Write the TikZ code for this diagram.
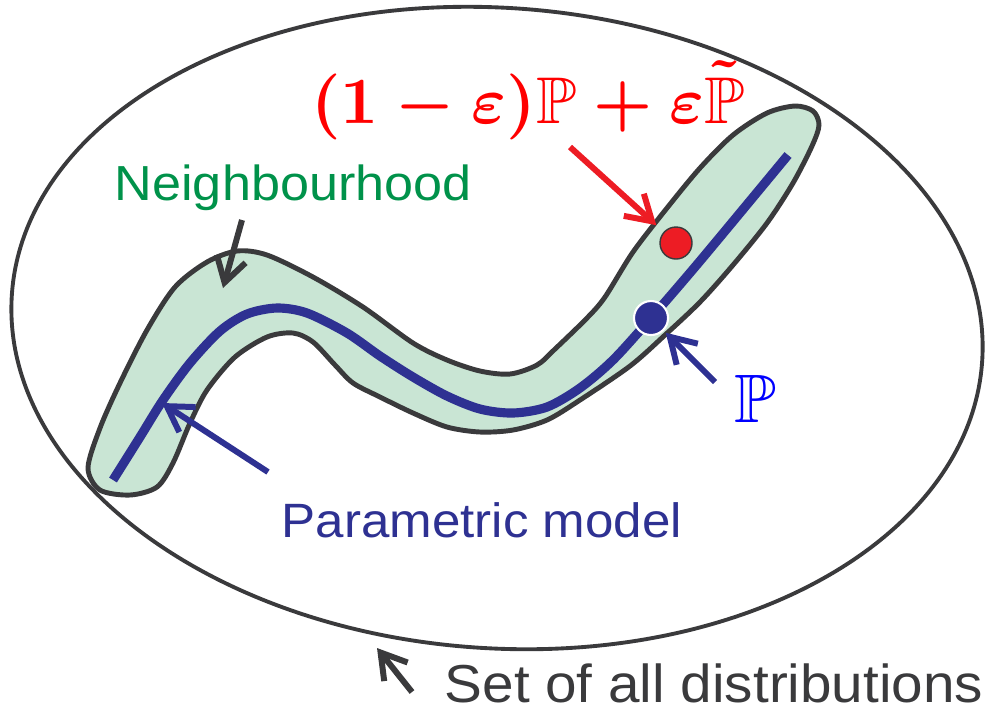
\documentclass[tikz,border=0pt]{standalone}
\usepackage{amssymb}
\usepackage{fontspec}
\newfontfamily\labelfont[FakeStretch=1.06]{Liberation Sans}
\usetikzlibrary{arrows.meta}
\definecolor{bandgreen}{HTML}{C9E5D4}
\definecolor{edgegray}{HTML}{3A3A3C}
\definecolor{modelblue}{HTML}{2E3192}
\definecolor{dotred}{HTML}{ED1C24}
\definecolor{textgreen}{HTML}{00924A}

\begin{document}
\begin{tikzpicture}[
    x=0.01cm, y=-0.01cm,
    band/.style = {draw=edgegray, fill=bandgreen, line width=1.4pt},
    model/.style = {draw=modelblue, line width=2.6pt},
    dot/.style = {circle, inner sep=0pt, minimum size=0.34cm},
    lbl/.style = {anchor=base west, inner sep=0pt, font=\labelfont\fontsize{14}{17}\selectfont},
    mathlbl/.style = {anchor=base west, inner sep=0pt, font=\fontsize{10}{12}\selectfont},
    arrow/.style = {line width=1.7pt, -{Straight Barb[length=7pt, width=8.5pt]}}
]
    \useasboundingbox (0,0) rectangle (995,714);

    % set of all distributions
    \draw[edgegray, line width=1.1pt, rotate around={-4:(497,328)}]
        (497,328) ellipse [x radius=4.86cm, y radius=3.2cm];

    % neighbourhood of the model
    \draw[band] plot[smooth cycle] coordinates {
        (88,468) (100,428) (120,383) (147,330) (175,287) (207,262) (237,251)
        (267,255) (313,277) (363,307) (413,343) (447,360) (480,371) (510,374)
        (537,365) (555,349) (587,318) (605,297) (633,252) (667,208) (700,168)
        (733,135) (767,113) (795,106) (813,111) (819,125) (812,146) (793,183)
        (767,223) (733,265) (700,302) (665,335) (630,366) (580,400) (547,420)
        (513,430) (480,432) (447,427) (413,413) (380,397) (353,383) (335,365)
        (313,342) (293,333) (267,337) (235,357) (207,390) (190,423) (173,463)
        (157,487) (130,495) (100,490)};

    \draw[model] plot[smooth] coordinates {
        (113,480) (140,437) (163,400) (190,363) (220,331) (247,314) (277,308)
        (307,313) (347,333) (380,356) (413,377) (447,396) (480,409) (513,413)
        (547,407) (580,388) (613,360) (651,318) (700,261) (788,155)};

    \node[dot, fill=modelblue, draw=white, line width=0.6pt] (P) at (651,318) {};
    \node[dot, fill=dotred, draw=edgegray, line width=0.4pt, minimum size=0.32cm] (mix) at (676,243) {};

    \node[mathlbl, text=red, scale=1.88, font=\fontsize{10}{12}\selectfont\boldmath] (mixlabel) at (310,123)
        {$(1-\varepsilon)\mathbb{P}+\varepsilon\tilde{\mathbb{P}}$};
    \node[mathlbl, text=blue, scale=1.95] (Plabel) at (733,422) {$\mathbb{P}$};
    \node[lbl, text=textgreen] (neigh) at (114,200) {Neighbourhood};
    \node[lbl, text=modelblue, font=\labelfont\fontsize{13.7}{16}\selectfont] (param) at (281,537) {Parametric model};
    \node[lbl, text=edgegray, font=\labelfont\fontsize{15.2}{18}\selectfont] (setall) at (444,702) {Set of all distributions};

    \coordinate (mixTail) at (570,147);
    \coordinate (PTail) at (715,382);
    \coordinate (neighTail) at (242,220);
    \coordinate (neighTip) at (223,288);
    \coordinate (paramTail) at (268,472);
    \coordinate (paramTip) at (162,403);
    \coordinate (setTail) at (412,692);
    \coordinate (setTip) at (377,648);

    \path[arrow, draw=dotred, shorten >=2.8pt] (mixTail) -- (mix);
    \path[arrow, draw=modelblue, shorten >=0.8pt] (PTail) -- (P);
    \path[arrow, draw=edgegray] (neighTail) -- (neighTip);
    \path[arrow, draw=modelblue] (paramTail) -- (paramTip);
    \path[arrow, draw=edgegray] (setTail) -- (setTip);
\end{tikzpicture}
\end{document}
